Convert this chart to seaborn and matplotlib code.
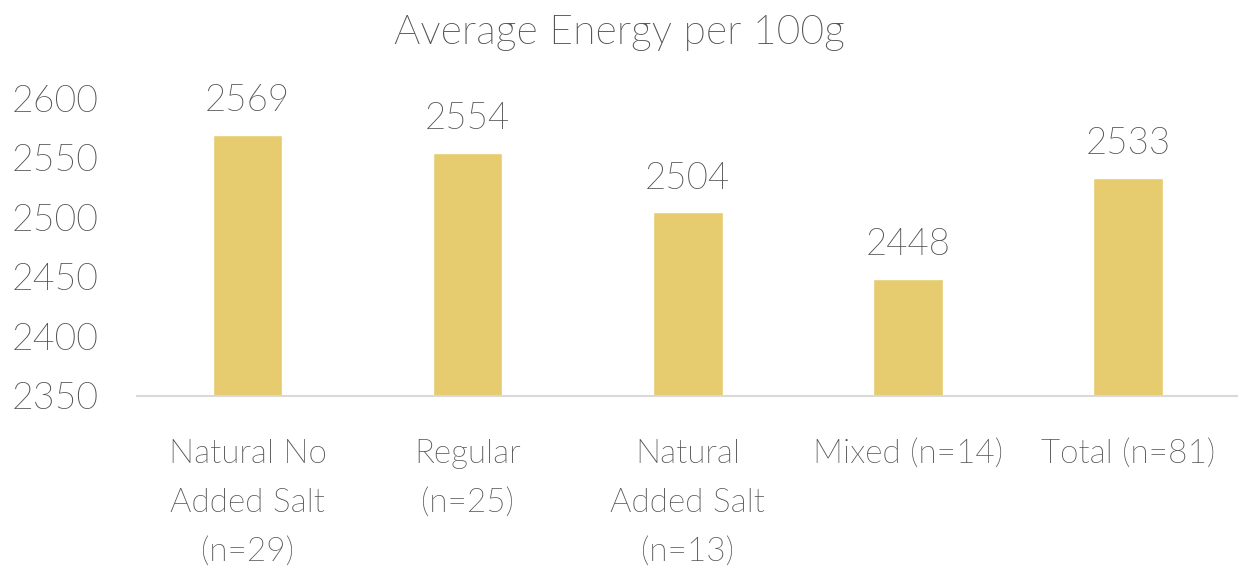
import matplotlib
matplotlib.use("Agg")
import matplotlib.pyplot as plt
from matplotlib import font_manager as fm
import seaborn as sns
import pandas as pd

categories = ["Natural No\nAdded Salt\n(n=29)", "Regular\n(n=25)", "Natural\nAdded Salt\n(n=13)",
              "Mixed (n=14)", "Total (n=81)"]
energy = [2569, 2554, 2504, 2448, 2533]
y_ticks = [2350, 2400, 2450, 2500, 2550, 2600]

sns.set_theme(style="white")
plt.rcParams["font.family"] = ["Lato", "DejaVu Sans"]

# Prefer the light cut of Lato when its file is available
light_files = [f for f in fm.findSystemFonts()
               if "lato" in f.lower() and "light" in f.lower() and "italic" not in f.lower()]
if light_files:
    fp = fm.FontProperties(fname=sorted(light_files)[0])
else:
    fp = fm.FontProperties(family="Lato")

text_color = "#505050"
bar_color = "#E6CC6E"

df = pd.DataFrame({"category": categories, "energy": energy})

fig = plt.figure(figsize=(12.38, 5.67), dpi=100)
ax = fig.add_axes([0.111, 0.302, 0.889, 0.525])

sns.barplot(data=df, x="category", y="energy", color=bar_color, width=0.317,
            saturation=1, ax=ax)

ax.set_ylim(2350, 2600)
ax.set_yticks(y_ticks)
ax.set_yticklabels([str(t) for t in y_ticks], fontproperties=fp, fontsize=27, color=text_color)
ax.tick_params(axis="y", length=0, pad=28)
ax.set_xticks(range(len(categories)))
ax.set_xticklabels(categories, fontproperties=fp, fontsize=24, color=text_color,
                   linespacing=1.8, va="top")
ax.tick_params(axis="x", length=0, pad=31)

ax.set_xlabel("")
ax.set_ylabel("")
for side in ["top", "right", "left"]:
    ax.spines[side].set_visible(False)
ax.spines["bottom"].set_color("#D9D9D9")
ax.spines["bottom"].set_linewidth(1.5)
ax.grid(False)

for container in ax.containers:
    ax.bar_label(container, labels=[str(v) for v in energy], padding=12,
                 fontproperties=fp, fontsize=26.5, color=text_color)

fig.text(0.5, 0.943, "Average Energy per 100g", ha="center", va="center",
         fontproperties=fp, fontsize=29.5, color=text_color)

fig.savefig("out.png", dpi=100)
